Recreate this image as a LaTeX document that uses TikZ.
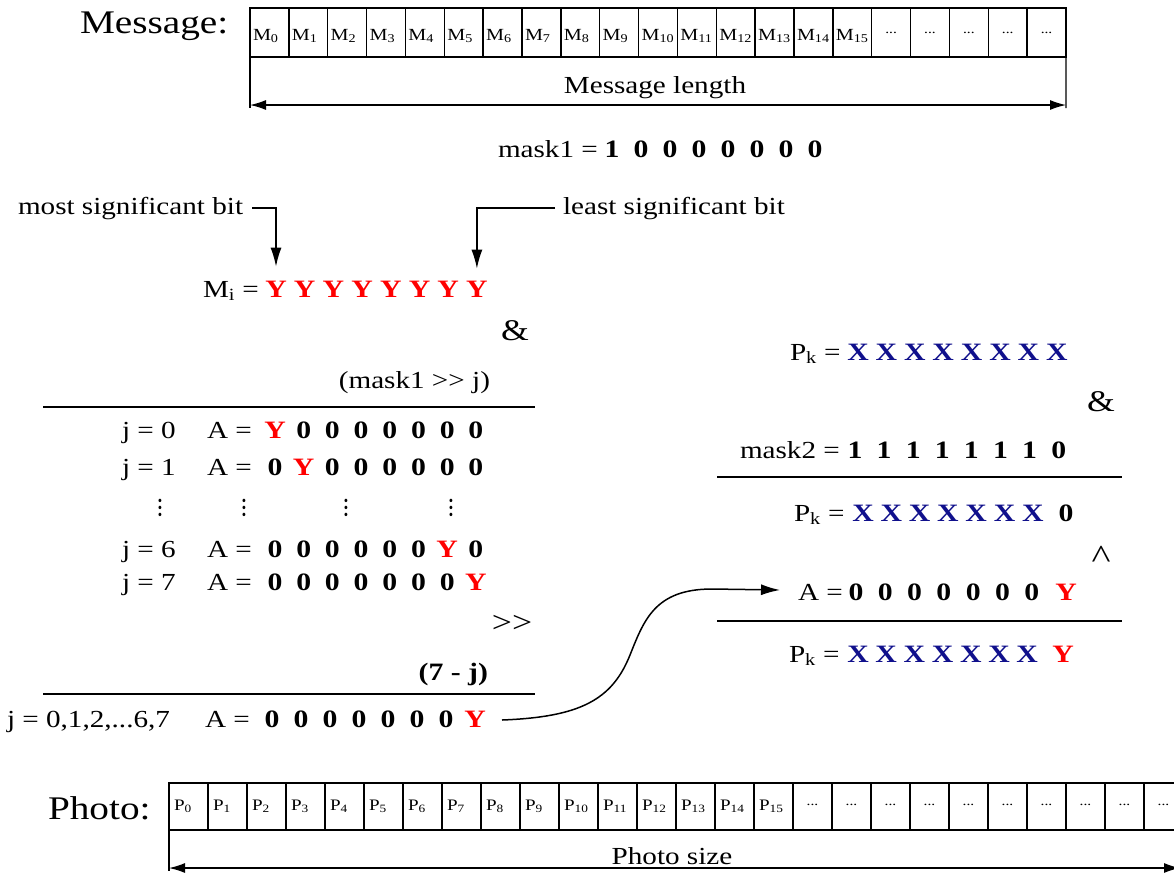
\documentclass[tikz,border=0pt]{standalone}
\usepackage{fontspec}
\setmainfont{Liberation Serif}[FakeStretch=1.19]
\usetikzlibrary{arrows.meta}
\definecolor{xblue}{RGB}{16,16,140}
\definecolor{yred}{RGB}{255,0,0}
\newcommand\setfs[1]{\fontsize{#1}{#1}\selectfont}
\newcommand\bitrow[5]{%
  \foreach \c/\col [count=\k from 0] in {#5} {\node[bitb,text=\col] (#1\k) at ({#2+#3*\k},#4) {\c};}}
\tikzset{
  bx/.style={inner sep=0pt, outer sep=0pt},
  txt/.style={bx, anchor=base west, font=\setfs{24.5}},
  bitb/.style={bx, anchor=base, font=\setfs{25}\bfseries},
  big/.style={bx, anchor=base west, font=\setfs{33}},
  mcell/.style={draw, line width=1.5pt, minimum width=38.857pt, minimum height=49pt, anchor=north west, bx},
  pcell/.style={draw, line width=1.5pt, minimum width=39pt, minimum height=47pt, anchor=north west, bx},
  mlab/.style={bx, anchor=base west, font=\setfs{17}},
  plab/.style={bx, anchor=base west, font=\setfs{16}},
  cdots/.style={bx, font=\setfs{13}},
  vdot/.style={bx, font=\setfs{24}},
  sep/.style={line width=2.3pt},
  conn/.style={line width=1.5pt, -{Latex[length=19pt,width=11pt]}},
  dim/.style={line width=1.3pt},
  dimarr/.style={line width=1.3pt, {Latex[length=16pt,width=10pt]}-{Latex[length=16pt,width=10pt]}},
}
\begin{document}
\begin{tikzpicture}[x=1pt,y=-1pt]
\useasboundingbox (0,0) rectangle (1174,876);
\clip (0,0) rectangle (1174,876);
% ---------- Message row ----------
\node[big] (msg) at (80,33) {Message:};
\foreach \i in {0,...,20} {\node[mcell] (m\i) at ({250+38.857*\i},8) {};}
\foreach \i in {0,...,15} {\node[mlab] (ml\i) at ({253+38.857*\i},40) {M\textsubscript{\i}};}
\foreach \i in {16,...,20} {\node[cdots] (md\i) at ({250+38.857*\i+19.4},33) {...};}
\coordinate (mlL) at (250,105);
\coordinate (mlR) at (1066,105);
\draw[dim] (m0.south west) -- (250,108);
\draw[dim] (m20.south east) -- (1066,108);
\draw[dimarr] (mlL) -- (mlR);
\node[bx, anchor=base, font=\setfs{24.5}] (mlen) at (655,93) {Message length};
% ---------- mask1 ----------
\node[txt] (mask1) at (498,157) {mask1 =};
\bitrow{mk}{612}{29}{157}{1/black,0/black,0/black,0/black,0/black,0/black,0/black,0/black}
% ---------- Mi ----------
\node[txt] (msb) at (18,214) {most significant bit};
\node[txt] (lsb) at (563,214) {least significant bit};
\node[txt] (mi) at (203,297) {M\textsubscript{i} =};
\bitrow{mY}{276}{28.7}{297}{Y/yred,Y/yred,Y/yred,Y/yred,Y/yred,Y/yred,Y/yred,Y/yred}
\draw[conn] ([xshift=9pt]msb.east) -| ([yshift=14pt]mY0.north);
\draw[conn] ([xshift=-8pt]lsb.west) -| ([yshift=12pt]mY7.north);
\node[bx, font=\setfs{30}] (amp1) at (515,331) {\&};
% ---------- left column ----------
\node[bx, anchor=base east, font=\setfs{24.5}] (m1j) at (490,388) {(mask1 >{}> j)};
\draw[sep] (43,407) -- (535,407);
\node[txt] (j0) at (122,438) {j = 0};
\node[txt] (a0) at (207,438) {A =};
\bitrow{ra}{275}{28.7}{438}{Y/yred,0/black,0/black,0/black,0/black,0/black,0/black,0/black}
\node[txt] (j1) at (122,475) {j = 1};
\node[txt] (a1) at (207,475) {A =};
\bitrow{rb}{275}{28.7}{475}{0/black,Y/yred,0/black,0/black,0/black,0/black,0/black,0/black}
\foreach \x [count=\n] in {160,244,346,451} {\node[vdot] (vd\n) at (\x,508) {\rotatebox{90}{...}};}
\node[txt] (j6) at (122,557) {j = 6};
\node[txt] (a6) at (207,557) {A =};
\bitrow{rc}{275}{28.7}{557}{0/black,0/black,0/black,0/black,0/black,0/black,Y/yred,0/black}
\node[txt] (j7) at (122,590) {j = 7};
\node[txt] (a7) at (207,590) {A =};
\bitrow{rd}{275}{28.7}{590}{0/black,0/black,0/black,0/black,0/black,0/black,0/black,Y/yred}
\node[bx, font=\setfs{30}] (shr) at (512,624) {>{}>};
\node[bx, anchor=base east, font=\setfs{25}\bfseries] (sevj) at (488,680) {(7 - j)};
\draw[sep] (43,694) -- (535,694);
\node[txt] (jall) at (7,727) {j = 0,1,2,...6,7};
\node[txt] (aall) at (205,727) {A =};
\bitrow{re}{272}{29}{727}{0/black,0/black,0/black,0/black,0/black,0/black,0/black,Y/yred}
% ---------- right column ----------
\node[txt] (pk1) at (790,360) {P\textsubscript{k} =};
\bitrow{xa}{858}{28.4}{360}{X/xblue,X/xblue,X/xblue,X/xblue,X/xblue,X/xblue,X/xblue,X/xblue}
\node[bx, font=\setfs{30}] (amp2) at (1101,402) {\&};
\node[txt] (mask2) at (740,458) {mask2 =};
\bitrow{mm}{855}{29.1}{458}{1/black,1/black,1/black,1/black,1/black,1/black,1/black,0/black}
\draw[sep] (717,477) -- (1122,477);
\node[txt] (pk2) at (794,521) {P\textsubscript{k} =};
\bitrow{xb}{863}{28.3}{521}{X/xblue,X/xblue,X/xblue,X/xblue,X/xblue,X/xblue,X/xblue}
\node[bitb] (xb7) at (1066,521) {0};
\node[bx, anchor=base, font=\setfs{34}] (xor) at (1101,568) {\textasciicircum};
\node[txt] (aeq) at (798,600) {A =};
\bitrow{ab}{856}{29.3}{600}{0/black,0/black,0/black,0/black,0/black,0/black,0/black}
\node[bitb, text=yred] (ab7) at (1066,600) {Y};
\draw[sep] (717,621) -- (1122,621);
\node[txt] (pk3) at (789,662) {P\textsubscript{k} =};
\bitrow{xc}{858}{28.2}{662}{X/xblue,X/xblue,X/xblue,X/xblue,X/xblue,X/xblue,X/xblue}
\node[bitb, text=yred] (xc7) at (1063,662) {Y};
% ---------- curved connector ----------
\coordinate (cs) at (502,720);
\coordinate (ce) at (780,590);
\draw[conn] (cs) .. controls (580,717) and (612,700) .. (630,655)
  .. controls (644,620) and (655,589) .. (712,589) -- (ce);
% ---------- Photo row ----------
\node[big] (photo) at (48,819) {Photo:};
\foreach \i in {0,...,25} {\node[pcell] (p\i) at ({169+39*\i},783) {};}
\foreach \i in {0,...,15} {\node[plab] (pl\i) at ({174+39*\i},810) {P\textsubscript{\i}};}
\foreach \i in {16,...,25} {\node[cdots] (pd\i) at ({169+39*\i+19.5},805) {...};}
\coordinate (psL) at (169,868);
\coordinate (psR) at (1180,868);
\draw[dim] (p0.south west) -- (169,871);
\draw[dimarr] (psL) -- (psR);
\node[bx, anchor=base, font=\setfs{24.5}] (psize) at (672,864) {Photo size};
\end{tikzpicture}
\end{document}
